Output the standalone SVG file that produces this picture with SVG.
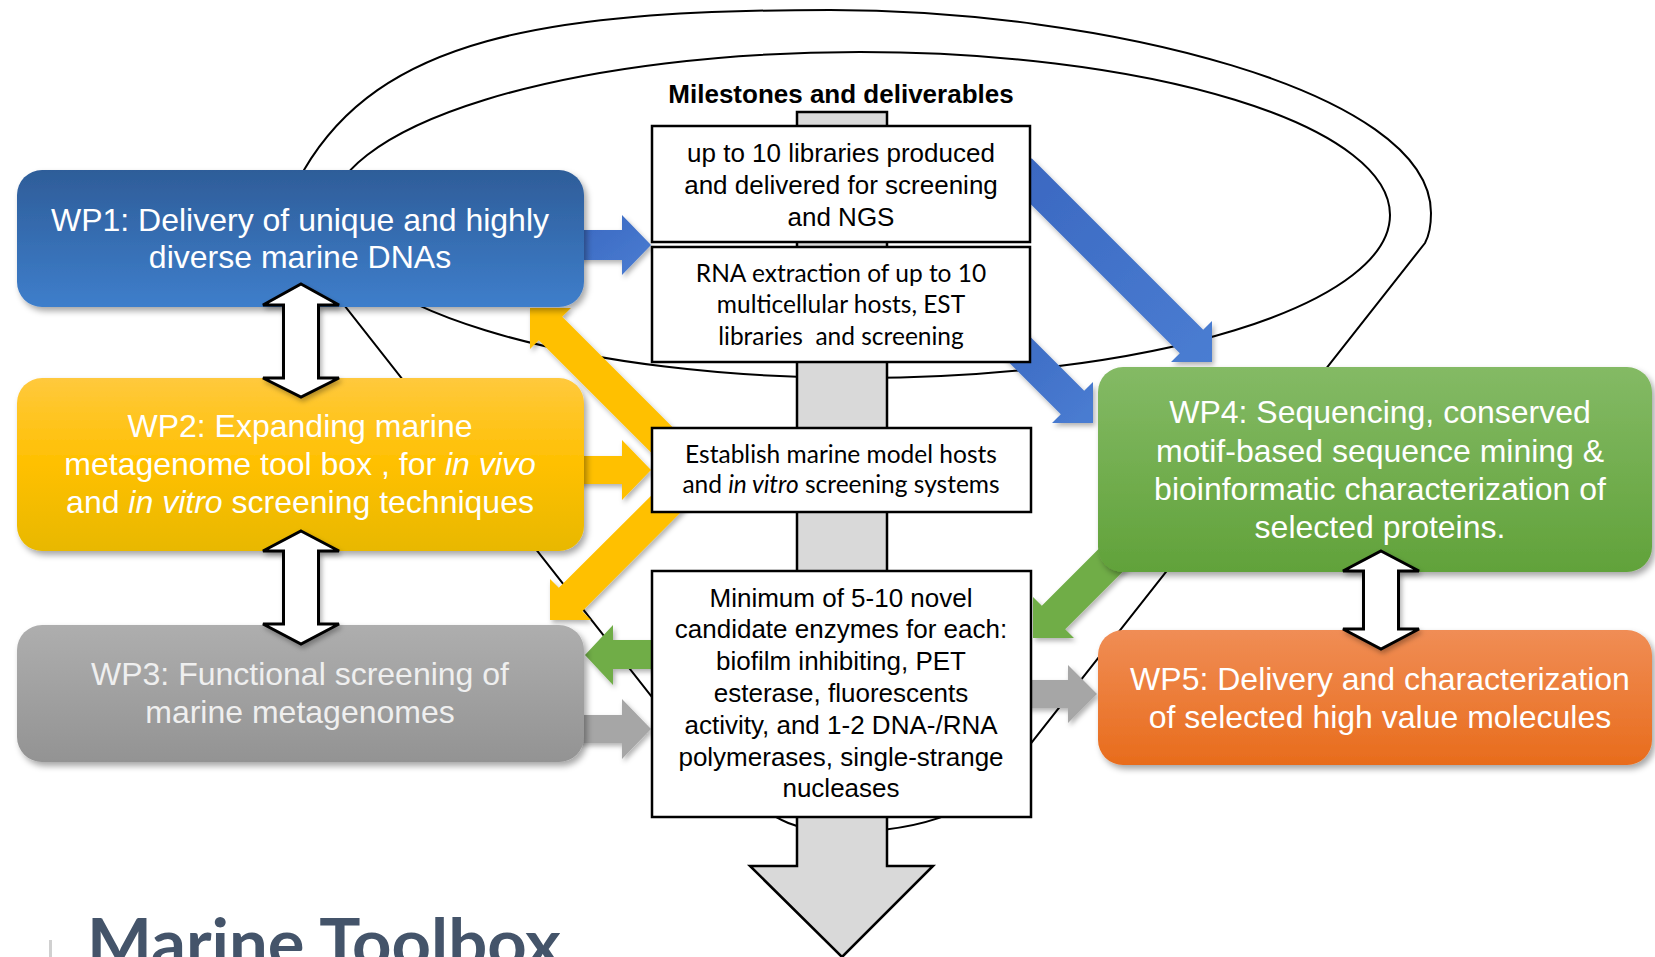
<svg xmlns="http://www.w3.org/2000/svg" width="1655" height="957" viewBox="0 0 1655 957">
<defs>
<linearGradient id="gBlue" x1="0" y1="0" x2="0" y2="1"><stop offset="0" stop-color="#2E5D99"/><stop offset="1" stop-color="#3E7ECB"/></linearGradient>
<linearGradient id="gYel" x1="0" y1="0" x2="0" y2="1"><stop offset="0" stop-color="#FFC93D"/><stop offset="0.5" stop-color="#FFC000"/><stop offset="1" stop-color="#E8B800"/></linearGradient>
<linearGradient id="gGray" x1="0" y1="0" x2="0" y2="1"><stop offset="0" stop-color="#AEAEAE"/><stop offset="1" stop-color="#939393"/></linearGradient>
<linearGradient id="gGreen" x1="0" y1="0" x2="0" y2="1"><stop offset="0" stop-color="#84BA65"/><stop offset="1" stop-color="#61A23A"/></linearGradient>
<linearGradient id="gOrange" x1="0" y1="0" x2="0" y2="1"><stop offset="0" stop-color="#F08D55"/><stop offset="1" stop-color="#E86C1C"/></linearGradient>
<linearGradient id="aBlue" x1="0" y1="0" x2="1" y2="1"><stop offset="0" stop-color="#3A67C0"/><stop offset="1" stop-color="#4A7DD2"/></linearGradient>
<filter id="sh" x="-10%" y="-10%" width="130%" height="140%"><feDropShadow dx="3" dy="4" stdDeviation="3" flood-color="#000" flood-opacity="0.35"/></filter>
<filter id="shs" x="-20%" y="-20%" width="150%" height="150%"><feDropShadow dx="2" dy="3" stdDeviation="2.5" flood-color="#000" flood-opacity="0.3"/></filter>
</defs>
<style>
.wp{font-family:"Liberation Sans",Arial,sans-serif;font-size:32px;fill:#fff;text-anchor:middle}
.wp3{fill:#EFEFEF}
.ms{font-family:"Liberation Sans",Arial,sans-serif;font-size:26px;fill:#000;text-anchor:middle}
.cal{font-family:Lato,"Liberation Sans",sans-serif;font-size:24.5px;fill:#000;text-anchor:middle}
.it{font-style:italic}
.line{fill:none;stroke:#000;stroke-width:2}
.mbox{fill:#fff;stroke:#000;stroke-width:2.5}
.dbl{fill:#fff;stroke:#000;stroke-width:3;stroke-linejoin:miter}
.spine{fill:#D9D9D9;stroke:#000;stroke-width:2.5}
</style>
<rect width="1655" height="957" fill="#fff"/>

<g id="connectors">
<path class="line" d="M304,170 C380,40 540,10 830,10 C1100,10 1431,90 1431,213 Q1431,232 1425,243 L1010,770 C985,805 930,832 841,832 C800,832 775,822 740,790 L652,697 L330,287 Z"/>
<ellipse class="line" cx="860" cy="215" rx="530" ry="163"/>
</g>

<g id="milestone-spine">
<polygon class="spine" points="797,112 887,112 887,866 933,866 842,957 750,866 797,866"/>
</g>

<g id="arrows" filter="url(#shs)">
<polygon fill="url(#aBlue)" points="570,230 622,230 622,215 651,245 622,275 622,260 570,260"/>
<polygon fill="url(#aBlue)" points="1031.7,158.3 1203.2,329.8 1212,321 1212,362 1171,362 1179.8,353.2 1008.3,181.7"/>
<polygon fill="url(#aBlue)" points="1011.7,318.3 1084.2,390.8 1093,382 1093,423 1052,423 1060.8,414.2 988.3,341.7"/>
<polygon fill="#FFC000" points="701.7,456.3 562.2,316.8 571,308 530,308 530,349 538.8,340.2 678.3,479.7"/>
<polygon fill="#FFC000" points="570,456 622,456 622,440 651,470 622,500 622,484 570,484"/>
<polygon fill="#FFC000" points="689,458 558.8,587.8 550,579 550,620 591,620 582.2,611.2 712,481"/>
<polygon fill="#70AD47" points="670,640 613,640 613,625 585,655 613,685 613,669 670,669"/>
<polygon fill="#70AD47" points="1135.2,559.2 1065.2,629.2 1074,638 1033,638 1033,597 1041.8,605.8 1111.8,535.8"/>
<polygon fill="#A6A6A6" points="570,715 622,715 622,699 651,729 622,759 622,743 570,743"/>
<polygon fill="#A6A6A6" points="1020,680 1068,680 1068,665 1097,694 1068,723 1068,708 1020,708"/>
</g>

<g id="milestones-title">
<text x="841" y="103" style="font-family:'Liberation Sans',Arial,sans-serif;font-size:26px;font-weight:bold;text-anchor:middle">Milestones and deliverables</text>
</g>

<g id="m1">
<rect class="mbox" x="652" y="126" width="378" height="116"/>
<text class="ms" x="841" y="162">up to 10 libraries produced</text>
<text class="ms" x="841" y="194">and delivered for screening</text>
<text class="ms" x="841" y="226">and NGS</text>
</g>
<g id="m2">
<rect class="mbox" x="652" y="247" width="378" height="115"/>
<text class="cal" x="841" y="282">RNA extraction of up to 10</text>
<text class="cal" x="841" y="313">multicellular hosts, EST</text>
<text class="cal" x="841" y="345" xml:space="preserve">libraries  and screening</text>
</g>
<g id="m3">
<rect class="mbox" x="652" y="428" width="379" height="84"/>
<text class="cal" x="841" y="463">Establish marine model hosts</text>
<text class="cal" x="841" y="493">and <tspan class="it">in vitro</tspan> screening systems</text>
</g>
<g id="m4">
<rect class="mbox" x="652" y="571" width="379" height="246"/>
<text class="ms" x="841" y="607">Minimum of 5-10 novel</text>
<text class="ms" x="841" y="638">candidate enzymes for each:</text>
<text class="ms" x="841" y="670">biofilm inhibiting, PET</text>
<text class="ms" x="841" y="702">esterase, fluorescents</text>
<text class="ms" x="841" y="734">activity, and 1-2 DNA-/RNA</text>
<text class="ms" x="841" y="766">polymerases, single-strange</text>
<text class="ms" x="841" y="797">nucleases</text>
</g>

<g id="wp1">
<rect x="17" y="170" width="567" height="137" rx="25" fill="url(#gBlue)" filter="url(#sh)"/>
<text class="wp" x="300" y="231">WP1: Delivery of unique and highly</text>
<text class="wp" x="300" y="268">diverse marine DNAs</text>
</g>
<g id="wp2">
<rect x="17" y="378" width="567" height="173" rx="25" fill="url(#gYel)" filter="url(#sh)"/>
<text class="wp" x="300" y="437">WP2: Expanding marine</text>
<text class="wp" x="300" y="475">metagenome tool box , for <tspan class="it">in vivo</tspan></text>
<text class="wp" x="300" y="513">and <tspan class="it">in vitro</tspan> screening techniques</text>
</g>
<g id="wp3">
<rect x="17" y="625" width="567" height="137" rx="25" fill="url(#gGray)" filter="url(#sh)"/>
<text class="wp wp3" x="300" y="685">WP3: Functional screening of</text>
<text class="wp wp3" x="300" y="723">marine metagenomes</text>
</g>
<g id="wp4">
<rect x="1098" y="367" width="554" height="205" rx="25" fill="url(#gGreen)" filter="url(#sh)"/>
<text class="wp" x="1380" y="423">WP4: Sequencing, conserved</text>
<text class="wp" x="1380" y="462">motif-based sequence mining &amp;</text>
<text class="wp" x="1380" y="500">bioinformatic characterization of</text>
<text class="wp" x="1380" y="538">selected proteins.</text>
</g>
<g id="wp5">
<rect x="1098" y="630" width="554" height="135" rx="25" fill="url(#gOrange)" filter="url(#sh)"/>
<text class="wp" x="1380" y="690">WP5: Delivery and characterization</text>
<text class="wp" x="1380" y="728">of selected high value molecules</text>
</g>

<g id="connectors-bidirectional" filter="url(#shs)">
<polygon class="dbl" points="301,284 339,305 318.5,305 318.5,378 339,378 301,397 263,378 283.5,378 283.5,305 263,305"/>
<polygon class="dbl" points="301,531 339,551 318.5,551 318.5,624 339,624 301,644 263,624 283.5,624 283.5,551 263,551"/>
<polygon class="dbl" points="1381,551 1419,571 1398.5,571 1398.5,629 1419,629 1381,649 1343,629 1363.5,629 1363.5,571 1343,571"/>
</g>

<g id="title">
<rect x="49" y="940" width="3" height="17" fill="#D0D0D0"/>
<text x="87" y="967" textLength="474" lengthAdjust="spacingAndGlyphs" style="font-family:Lato,'DejaVu Sans',sans-serif;font-weight:bold;font-size:67px;fill:#44546A">Marine Toolbox</text>
</g>
</svg>
